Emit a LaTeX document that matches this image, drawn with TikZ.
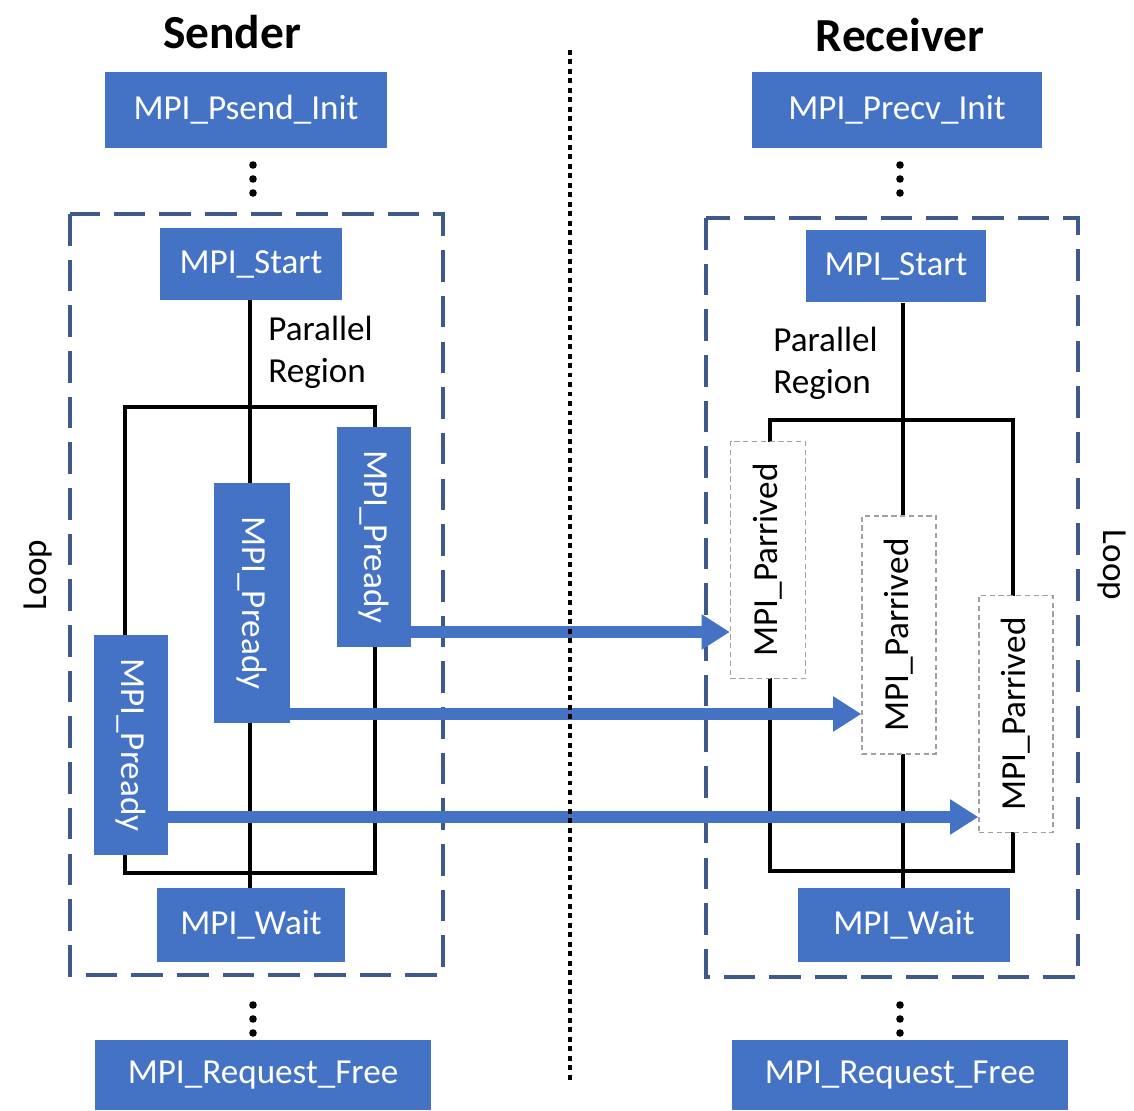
\documentclass[tikz,border=0pt]{standalone}
\usepackage{fontspec}
\setmainfont{Carlito}
\usetikzlibrary{arrows.meta,backgrounds}
\definecolor{mblue}{HTML}{4472C4}
\definecolor{loopc}{HTML}{3F5A8A}
\definecolor{pgray}{HTML}{A0A0A0}
\begin{document}
\begin{tikzpicture}[x=0.02cm,y=-0.02cm,
  bluebox/.style={fill=mblue,text=white,inner sep=0pt,font=\fontsize{20}{24}\selectfont},
  arrbox/.style={fill=white,draw=pgray,line width=0.8pt,dash pattern=on 3pt off 2pt,text=black,inner sep=0pt,font=\fontsize{20}{24}\selectfont},
  plain/.style={inner sep=0pt,font=\fontsize{20}{24}\selectfont},
  title/.style={inner sep=0pt,font=\fontsize{27}{32}\selectfont\bfseries},
  loopbox/.style={draw=loopc,line width=2.3pt,dash pattern=on 18pt off 8pt},
  tree/.style={draw=black,line width=2.3pt},
  bigarrow/.style={draw=mblue,line width=6.8pt,-{Triangle[length=16pt,width=19pt]}},
  divider/.style={draw=black,line width=2.8pt,dash pattern=on 2.8pt off 2.6pt},
  vdot/.style={fill=black,draw=none}]
\useasboundingbox (0,0) rectangle (1134,1111);

% titles
\node[title] (tS) at (232,32) {Sender};
\node[title] (tR) at (900,35) {Receiver};

% loop boxes
\coordinate (lbL1) at (70,214); \coordinate (lbL2) at (443,975);
\coordinate (lbR1) at (706,218); \coordinate (lbR2) at (1078,977);
\draw[loopbox] (lbL1) rectangle (lbL2);
\draw[loopbox] (lbR1) rectangle (lbR2);
\node[plain,rotate=90] (loopL) at (38,575) {Loop};
\node[plain,rotate=-90] (loopR) at (1112,565) {Loop};

% sender nodes
\node[bluebox,minimum width=5.66cm,minimum height=1.52cm] (psend) at (246,110) {MPI\_Psend\_Init};
\node[bluebox,minimum width=3.64cm,minimum height=1.44cm] (startL) at (251,264) {MPI\_Start};
\node[bluebox,minimum width=3.78cm,minimum height=1.48cm] (waitL) at (251,925) {MPI\_Wait};
\node[bluebox,minimum width=6.74cm,minimum height=1.40cm] (freeL) at (263,1075) {MPI\_Request\_Free};
\node[bluebox,minimum width=1.48cm,minimum height=4.42cm] (preadyA) at (374,537) {\rotatebox{-90}{MPI\_Pready}};
\node[bluebox,minimum width=1.52cm,minimum height=4.80cm] (preadyB) at (252,603) {\rotatebox{-90}{MPI\_Pready}};
\node[bluebox,minimum width=1.48cm,minimum height=4.40cm] (preadyC) at (131,745) {\rotatebox{-90}{MPI\_Pready}};
\node[plain,anchor=west,align=left] (prL) at (268,352) {Parallel\\Region};

% receiver nodes
\node[bluebox,minimum width=5.80cm,minimum height=1.52cm] (precv) at (897,110) {MPI\_Precv\_Init};
\node[bluebox,minimum width=3.62cm,minimum height=1.46cm] (startR) at (896,266) {MPI\_Start};
\node[bluebox,minimum width=4.24cm,minimum height=1.48cm] (waitR) at (904,925) {MPI\_Wait};
\node[bluebox,minimum width=6.72cm,minimum height=1.40cm] (freeR) at (900,1075) {MPI\_Request\_Free};
\node[arrbox,minimum width=1.50cm,minimum height=4.74cm] (parrA) at (768,560) {\rotatebox{90}{MPI\_Parrived}};
\node[arrbox,minimum width=1.48cm,minimum height=4.76cm] (parrB) at (899,635) {\rotatebox{90}{MPI\_Parrived}};
\node[arrbox,minimum width=1.48cm,minimum height=4.74cm] (parrC) at (1016,714) {\rotatebox{90}{MPI\_Parrived}};
\node[plain,anchor=west,align=left] (prR) at (773,363) {Parallel\\Region};

% tree lines (behind boxes)
\begin{pgfonlayer}{background}
\coordinate (tl1) at (125,407); \coordinate (tl2) at (375,873);
\draw[tree] (tl1) rectangle (tl2);
\draw[tree] (startL.south -| 250,0) -- (waitL.north -| 250,0);
\coordinate (tr1) at (770,420); \coordinate (tr2) at (1013,871);
\draw[tree] (tr1) rectangle (tr2);
\draw[tree] (startR.south -| 903,0) -- (waitR.north -| 903,0);
\end{pgfonlayer}

% vertical ellipses
\foreach \yy in {165,179,193} {
  \fill[vdot] (253,\yy) circle (3.8);
  \fill[vdot] (900,\yy) circle (3.8);
}
\foreach \yy in {1005,1019,1033} {
  \fill[vdot] (253,\yy) circle (3.8);
  \fill[vdot] (900,\yy) circle (3.8);
}

% arrows
\draw[bigarrow] (preadyA.east |- 0,632) -- (parrA.west |- 0,632);
\draw[bigarrow] (preadyB.east |- 0,714) -- (parrB.west |- 0,714);
\draw[bigarrow] (preadyC.east |- 0,817) -- (parrC.west |- 0,817);

% divider (on top)
\coordinate (d1) at (570,50);
\coordinate (d2) at (570,1082);
\draw[divider] (d1) -- (d2);
\end{tikzpicture}
\end{document}
